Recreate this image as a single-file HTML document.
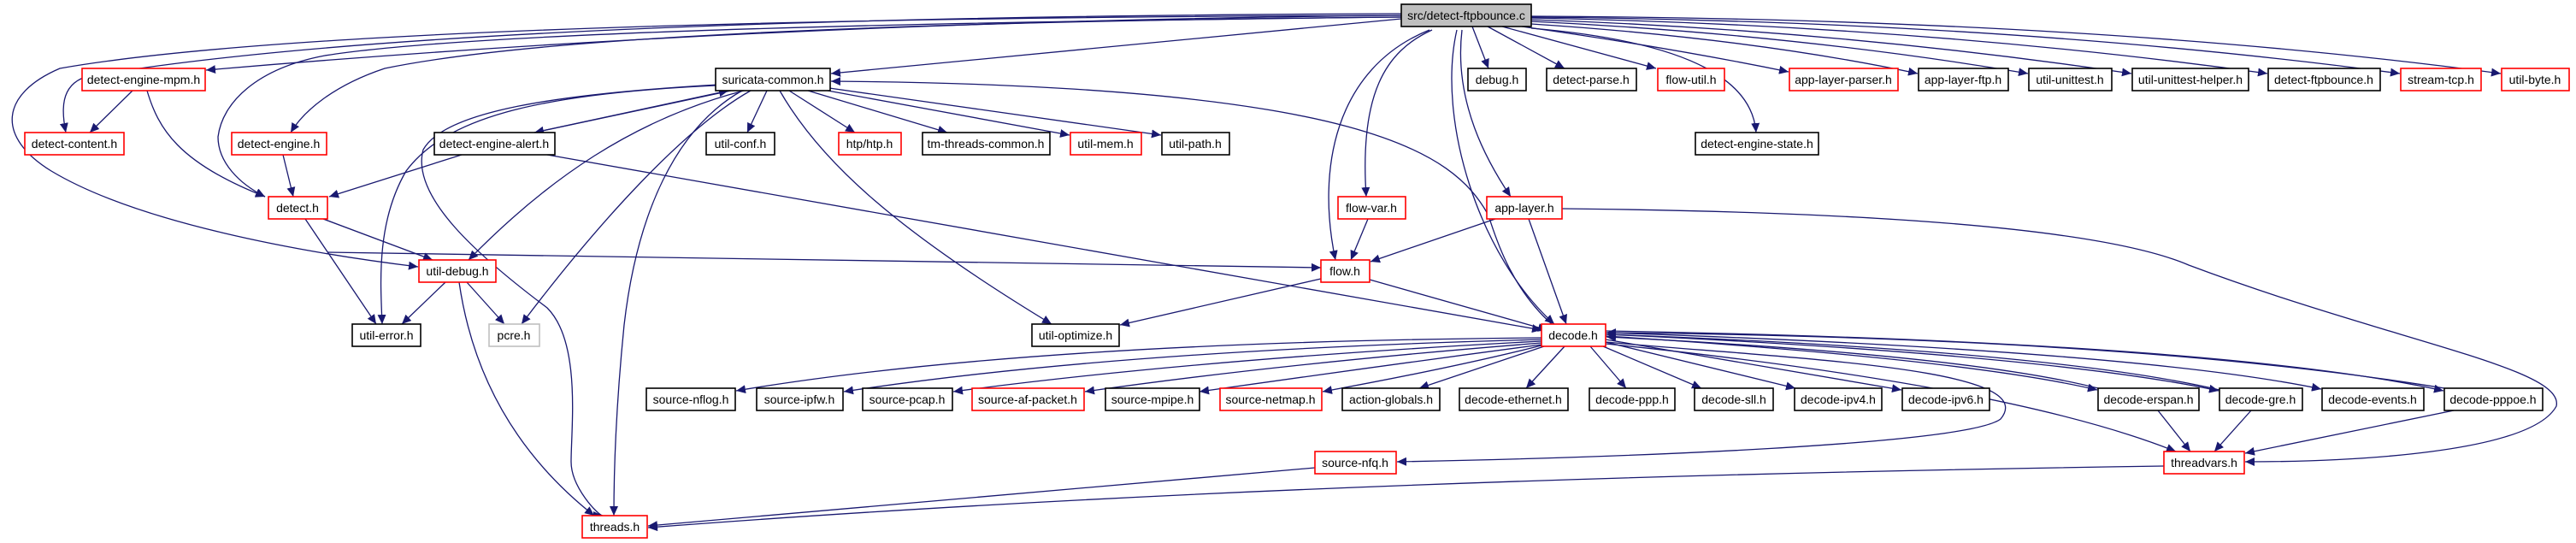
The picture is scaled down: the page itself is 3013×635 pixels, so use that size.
<!DOCTYPE html>
<html><head><meta charset="utf-8"><style>
html,body{margin:0;padding:0;background:#fff;}
svg{display:block;}
text{font-family:"Liberation Sans",Arial,sans-serif;font-size:14px;fill:#000;}
.e{fill:none;stroke:#191970;stroke-width:1.3;}
.b{fill:#fff;stroke:#000;stroke-width:1.6;}
.r{fill:#fff;stroke:#ff0000;stroke-width:1.6;}
.g{fill:#fff;stroke:#bfbfbf;stroke-width:1.6;}
</style></head><body>
<svg width="3013" height="635" viewBox="0 0 3013 635" xmlns="http://www.w3.org/2000/svg">
<defs><marker id="a" markerUnits="userSpaceOnUse" markerWidth="12" markerHeight="10" refX="11" refY="5" orient="auto"><path d="M0,0 L11,5 L0,10 z" fill="#191970"/></marker></defs>
<g class="e" marker-end="url(#a)">
<path d="M1722,31 L1741,80"/>
<path d="M1740,31 L1830,80"/>
<path d="M1757,31 L1937,80"/>
<path d="M1780,31 Q1950,55 2092,84"/>
<path d="M1791,28 Q2050,45 2243,86"/>
<path d="M1791,25 Q2100,40 2372,86"/>
<path d="M1791,23 Q2150,35 2493,86"/>
<path d="M1791,21 Q2250,30 2652,86"/>
<path d="M1791,20 Q2350,25 2807,86"/>
<path d="M1791,19 Q2450,22 2925,86"/>
<path d="M1791,33 C1990,50 2050,100 2054,155"/>
<path d="M1639,22 L972,86"/>
<path d="M1639,18 Q900,25 241,82"/>
<path d="M1639,16 Q500,20 100,90 C70,100 72,130 77,155"/>
<path d="M1639,20 Q700,28 450,80 C390,100 355,130 340,155"/>
<path d="M1639,20 Q600,30 380,65 C300,80 260,120 255,160 C255,190 280,215 310,230"/>
<path d="M1639,18 Q400,22 70,80 C0,110 -5,160 60,200 C160,260 350,295 489,312"/>
<path d="M1675,35 C1620,60 1590,110 1598,230"/>
<path d="M1672,35 C1560,80 1540,200 1562,304"/>
<path d="M1710,35 C1700,120 1740,190 1767,230"/>
<path d="M1704,35 C1680,140 1730,300 1818,379"/>
<path d="M897,106 L874,155"/>
<path d="M923,106 L1000,155"/>
<path d="M945,106 L1108,155"/>
<path d="M968,106 L1251,158"/>
<path d="M970,103 L1358,158"/>
<path d="M912,106 C960,190 1050,270 1230,379"/>
<path d="M855,106 L625,155"/>
<path d="M625,155 L852,106"/>
<path d="M870,106 C740,140 640,210 548,304"/>
<path d="M878,106 C800,150 700,260 610,379"/>
<path d="M837,100 C620,110 520,140 475,200 C440,260 445,330 447,379"/>
<path d="M840,99 C650,110 520,130 495,175 C480,230 560,300 640,360 C680,400 668,500 668,540 C668,570 700,603 705,603"/>
<path d="M868,106 C790,150 745,250 730,380 C720,480 718,560 718,603"/>
<path d="M1815,379 C1760,330 1745,260 1740,250 C1700,180 1600,100 972,95"/>
<path d="M155,106 L105,155"/>
<path d="M172,106 C185,150 208,190 310,230"/>
<path d="M331,181 L343,230"/>
<path d="M540,181 L385,230"/>
<path d="M640,181 L1803,386"/>
<path d="M378,256 L506,304"/>
<path d="M357,256 L440,379"/>
<path d="M383,295 L1545,313"/>
<path d="M521,330 L470,379"/>
<path d="M546,330 L590,379"/>
<path d="M537,330 C550,420 590,520 695,603"/>
<path d="M1600,256 L1580,304"/>
<path d="M1749,256 L1603,306"/>
<path d="M1788,256 L1832,379"/>
<path d="M1827,244 Q2420,250 2560,310 C2800,400 3000,430 2990,475 C2960,530 2750,540 2626,540"/>
<path d="M1602,327 L1810,386"/>
<path d="M1545,326 L1310,380"/>
<path d="M1803,395 Q1200,400 861,457"/>
<path d="M1803,397 Q1300,410 987,458"/>
<path d="M1803,399 Q1400,420 1115,458"/>
<path d="M1803,401 Q1500,425 1269,458"/>
<path d="M1803,403 Q1600,430 1403,458"/>
<path d="M1803,404 Q1700,430 1547,458"/>
<path d="M1806,405 L1660,454"/>
<path d="M1830,405 L1785,454"/>
<path d="M1860,405 L1902,454"/>
<path d="M1875,405 L1990,454"/>
<path d="M1878,400 L2100,454"/>
<path d="M1878,397 L2224,456"/>
<path d="M1878,393 Q2300,420 2453,456"/>
<path d="M1878,391 Q2400,415 2595,457"/>
<path d="M1878,389 Q2500,410 2715,455"/>
<path d="M1878,387 Q2600,400 2858,457"/>
<path d="M2859,454 Q2500,395 1879,389"/>
<path d="M2596,456 Q2400,410 1879,391"/>
<path d="M2454,454 Q2300,415 1879,394"/>
<path d="M1878,400 C2100,420 2390,430 2340,490 C2300,520 1900,535 1634,540"/>
<path d="M1878,402 C2150,430 2400,470 2545,528"/>
<path d="M2524,480 L2562,528"/>
<path d="M2633,480 L2590,528"/>
<path d="M2870,480 L2626,530"/>
<path d="M1538,547 L758,615"/>
<path d="M2531,545 Q1500,560 758,617"/>
</g>
<g>
<rect class="b" x="1639" y="5" width="152" height="26" style="fill:#bfbfbf"/><text x="1715" y="23" text-anchor="middle">src/detect-ftpbounce.c</text>
<rect class="r" x="96" y="80" width="144" height="26"/><text x="168" y="98" text-anchor="middle">detect-engine-mpm.h</text>
<rect class="b" x="837" y="80" width="134" height="26"/><text x="904" y="98" text-anchor="middle">suricata-common.h</text>
<rect class="b" x="1717" y="80" width="68" height="26"/><text x="1751" y="98" text-anchor="middle">debug.h</text>
<rect class="b" x="1809" y="80" width="105" height="26"/><text x="1861" y="98" text-anchor="middle">detect-parse.h</text>
<rect class="r" x="1939" y="80" width="78" height="26"/><text x="1978" y="98" text-anchor="middle">flow-util.h</text>
<rect class="r" x="2093" y="80" width="127" height="26"/><text x="2156" y="98" text-anchor="middle">app-layer-parser.h</text>
<rect class="b" x="2244" y="80" width="105" height="26"/><text x="2296" y="98" text-anchor="middle">app-layer-ftp.h</text>
<rect class="b" x="2373" y="80" width="97" height="26"/><text x="2421" y="98" text-anchor="middle">util-unittest.h</text>
<rect class="b" x="2494" y="80" width="136" height="26"/><text x="2562" y="98" text-anchor="middle">util-unittest-helper.h</text>
<rect class="b" x="2653" y="80" width="131" height="26"/><text x="2718" y="98" text-anchor="middle">detect-ftpbounce.h</text>
<rect class="r" x="2808" y="80" width="94" height="26"/><text x="2855" y="98" text-anchor="middle">stream-tcp.h</text>
<rect class="r" x="2926" y="80" width="79" height="26"/><text x="2965" y="98" text-anchor="middle">util-byte.h</text>

<rect class="r" x="29" y="155" width="116" height="26"/><text x="87" y="173" text-anchor="middle">detect-content.h</text>
<rect class="r" x="271" y="155" width="111" height="26"/><text x="326" y="173" text-anchor="middle">detect-engine.h</text>
<rect class="b" x="508" y="155" width="141" height="26"/><text x="578" y="173" text-anchor="middle">detect-engine-alert.h</text>
<rect class="b" x="826" y="155" width="80" height="26"/><text x="866" y="173" text-anchor="middle">util-conf.h</text>
<rect class="r" x="981" y="155" width="73" height="26"/><text x="1017" y="173" text-anchor="middle">htp/htp.h</text>
<rect class="b" x="1079" y="155" width="149" height="26"/><text x="1153" y="173" text-anchor="middle">tm-threads-common.h</text>
<rect class="r" x="1252" y="155" width="83" height="26"/><text x="1293" y="173" text-anchor="middle">util-mem.h</text>
<rect class="b" x="1359" y="155" width="79" height="26"/><text x="1398" y="173" text-anchor="middle">util-path.h</text>
<rect class="b" x="1983" y="155" width="144" height="26"/><text x="2055" y="173" text-anchor="middle">detect-engine-state.h</text>

<rect class="r" x="314" y="230" width="69" height="26"/><text x="348" y="248" text-anchor="middle">detect.h</text>
<rect class="r" x="1565" y="230" width="79" height="26"/><text x="1604" y="248" text-anchor="middle">flow-var.h</text>
<rect class="r" x="1739" y="230" width="88" height="26"/><text x="1783" y="248" text-anchor="middle">app-layer.h</text>

<rect class="r" x="490" y="304" width="90" height="26"/><text x="535" y="322" text-anchor="middle">util-debug.h</text>
<rect class="r" x="1545" y="304" width="57" height="26"/><text x="1573" y="322" text-anchor="middle">flow.h</text>

<rect class="b" x="412" y="379" width="80" height="26"/><text x="452" y="397" text-anchor="middle">util-error.h</text>
<rect class="g" x="572" y="379" width="59" height="26"/><text x="601" y="397" text-anchor="middle">pcre.h</text>
<rect class="b" x="1207" y="379" width="102" height="26"/><text x="1258" y="397" text-anchor="middle">util-optimize.h</text>
<rect class="r" x="1803" y="379" width="75" height="26"/><text x="1840" y="397" text-anchor="middle">decode.h</text>

<rect class="b" x="756" y="454" width="104" height="26"/><text x="808" y="472" text-anchor="middle">source-nflog.h</text>
<rect class="b" x="885" y="454" width="101" height="26"/><text x="935" y="472" text-anchor="middle">source-ipfw.h</text>
<rect class="b" x="1009" y="454" width="105" height="26"/><text x="1061" y="472" text-anchor="middle">source-pcap.h</text>
<rect class="r" x="1137" y="454" width="131" height="26"/><text x="1202" y="472" text-anchor="middle">source-af-packet.h</text>
<rect class="b" x="1293" y="454" width="110" height="26"/><text x="1348" y="472" text-anchor="middle">source-mpipe.h</text>
<rect class="r" x="1427" y="454" width="119" height="26"/><text x="1486" y="472" text-anchor="middle">source-netmap.h</text>
<rect class="b" x="1570" y="454" width="114" height="26"/><text x="1627" y="472" text-anchor="middle">action-globals.h</text>
<rect class="b" x="1707" y="454" width="127" height="26"/><text x="1770" y="472" text-anchor="middle">decode-ethernet.h</text>
<rect class="b" x="1859" y="454" width="100" height="26"/><text x="1909" y="472" text-anchor="middle">decode-ppp.h</text>
<rect class="b" x="1982" y="454" width="92" height="26"/><text x="2028" y="472" text-anchor="middle">decode-sll.h</text>
<rect class="b" x="2099" y="454" width="102" height="26"/><text x="2150" y="472" text-anchor="middle">decode-ipv4.h</text>
<rect class="b" x="2225" y="454" width="102" height="26"/><text x="2276" y="472" text-anchor="middle">decode-ipv6.h</text>
<rect class="b" x="2454" y="454" width="118" height="26"/><text x="2513" y="472" text-anchor="middle">decode-erspan.h</text>
<rect class="b" x="2596" y="454" width="97" height="26"/><text x="2644" y="472" text-anchor="middle">decode-gre.h</text>
<rect class="b" x="2716" y="454" width="119" height="26"/><text x="2775" y="472" text-anchor="middle">decode-events.h</text>
<rect class="b" x="2859" y="454" width="115" height="26"/><text x="2916" y="472" text-anchor="middle">decode-pppoe.h</text>

<rect class="r" x="1538" y="528" width="95" height="26"/><text x="1585" y="546" text-anchor="middle">source-nfq.h</text>
<rect class="r" x="2531" y="528" width="94" height="26"/><text x="2578" y="546" text-anchor="middle">threadvars.h</text>

<rect class="r" x="681" y="603" width="76" height="26"/><text x="719" y="621" text-anchor="middle">threads.h</text>
</g>
</svg>
</body></html>
